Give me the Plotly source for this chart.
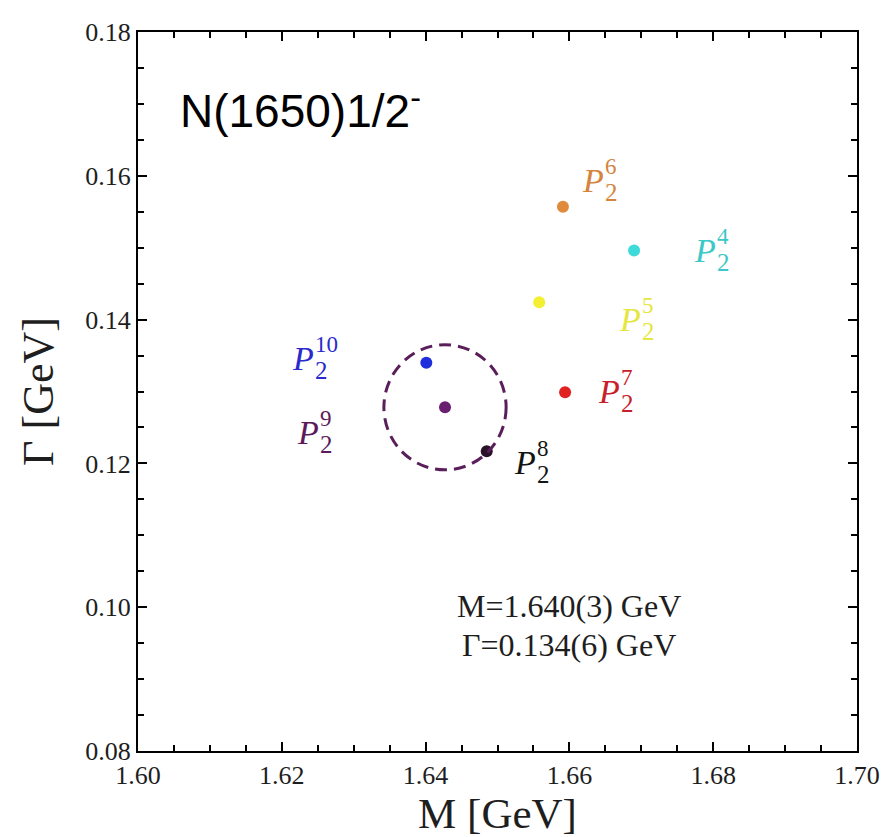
import plotly.graph_objects as go

# ---- data ----
labels = ["6", "4", "5", "7", "10", "9", "8"]
mass = [1.6591, 1.6690, 1.6558, 1.6594, 1.6401, 1.6427, 1.6485]
width = [0.1557, 0.1496, 0.1424, 0.1299, 0.1340, 0.1278, 0.1217]
point_colors = ["#e08a3c", "#3ddada", "#f2f030", "#e02222", "#1e2edc", "#6a2070", "#2a1228"]
label_colors = ["#d4843c", "#3cc8c8", "#e6e640", "#c8202a", "#2a2acd", "#5c1a5c", "#141414"]
# label (letter P) centres
label_m = [1.66328, 1.67886, 1.66843, 1.66551, 1.62295, 1.62365, 1.65382]
label_g = [0.15931, 0.14958, 0.13997, 0.12999, 0.13458, 0.12430, 0.12009]

circle_center_m = 1.6427
circle_center_g = 0.1278
circle_rad_m = 0.0085
circle_rad_g = 0.0087

x_ticks = [1.60, 1.62, 1.64, 1.66, 1.68, 1.70]
y_ticks = [0.08, 0.10, 0.12, 0.14, 0.16, 0.18]

title_text = "N(1650)1/2<sup>-</sup>"
result_lines = ["M=1.640(3) GeV", "Γ=0.134(6) GeV"]
result_line_g = [0.1001, 0.0947]

SERIF = "Liberation Serif, Times New Roman, serif"
SANS = "Liberation Sans, Arial, sans-serif"

fig = go.Figure()

fig.add_trace(go.Scatter(
    x=mass, y=width, mode="markers",
    marker=dict(size=12, color=point_colors, line=dict(width=0)),
    showlegend=False, hoverinfo="skip"))

fig.add_shape(type="circle", xref="x", yref="y",
              x0=circle_center_m - circle_rad_m, x1=circle_center_m + circle_rad_m,
              y0=circle_center_g - circle_rad_g, y1=circle_center_g + circle_rad_g,
              line=dict(color="#5a1f5a", width=3, dash="12px,7px"))

annotations = []
for lab, lm, lg, col in zip(labels, label_m, label_g, label_colors):
    annotations.append(dict(x=lm, y=lg, xref="x", yref="y", text="<i>P</i>",
                            showarrow=False, xanchor="center", yanchor="middle",
                            font=dict(family=SERIF, size=34, color=col)))
    annotations.append(dict(x=lm, y=lg, xref="x", yref="y", text=lab,
                            showarrow=False, xanchor="left", yanchor="middle",
                            xshift=10, yshift=14,
                            font=dict(family=SERIF, size=23, color=col)))
    annotations.append(dict(x=lm, y=lg, xref="x", yref="y", text="2",
                            showarrow=False, xanchor="left", yanchor="middle",
                            xshift=10, yshift=-12,
                            font=dict(family=SERIF, size=25, color=col)))

annotations.append(dict(x=1.6055, y=0.1694, xref="x", yref="y", text=title_text,
                        showarrow=False, xanchor="left", yanchor="middle",
                        font=dict(family=SANS, size=46, color="black")))
for txt, g in zip(result_lines, result_line_g):
    annotations.append(dict(x=1.6599, y=g, xref="x", yref="y", text=txt,
                            showarrow=False, xanchor="center", yanchor="middle",
                            font=dict(family=SERIF, size=32, color="#1e1e1e")))

fig.update_layout(
    width=889, height=837,
    margin=dict(l=130, r=40, t=24, b=94, autoexpand=False),
    paper_bgcolor="white", plot_bgcolor="white",
    annotations=annotations,
    showlegend=False,
)

axis_common = dict(
    showgrid=False, zeroline=False, automargin=False,
    showline=True, linecolor="black", linewidth=2, mirror="ticks",
    ticks="inside", ticklen=9, tickwidth=2, tickcolor="black",
    tickformat=".2f",
    tickfont=dict(family=SERIF, size=26, color="#1e1e1e"),
)

fig.update_xaxes(
    range=[1.60, 1.70], tickvals=x_ticks,
    minor=dict(dtick=0.005, tick0=1.6, ticks="inside", ticklen=6, tickwidth=2,
               tickcolor="black", showgrid=False),
    title=dict(text="M [GeV]", font=dict(family=SERIF, size=43, color="#1e1e1e"), standoff=8),
    **axis_common)
fig.update_yaxes(
    range=[0.08, 0.18], tickvals=y_ticks,
    minor=dict(dtick=0.005, tick0=0.08, ticks="inside", ticklen=6, tickwidth=2,
               tickcolor="black", showgrid=False),
    title=dict(text="Γ [GeV]", font=dict(family=SERIF, size=44, color="#1e1e1e"), standoff=18),
    **axis_common)

fig.write_html("out.html")
